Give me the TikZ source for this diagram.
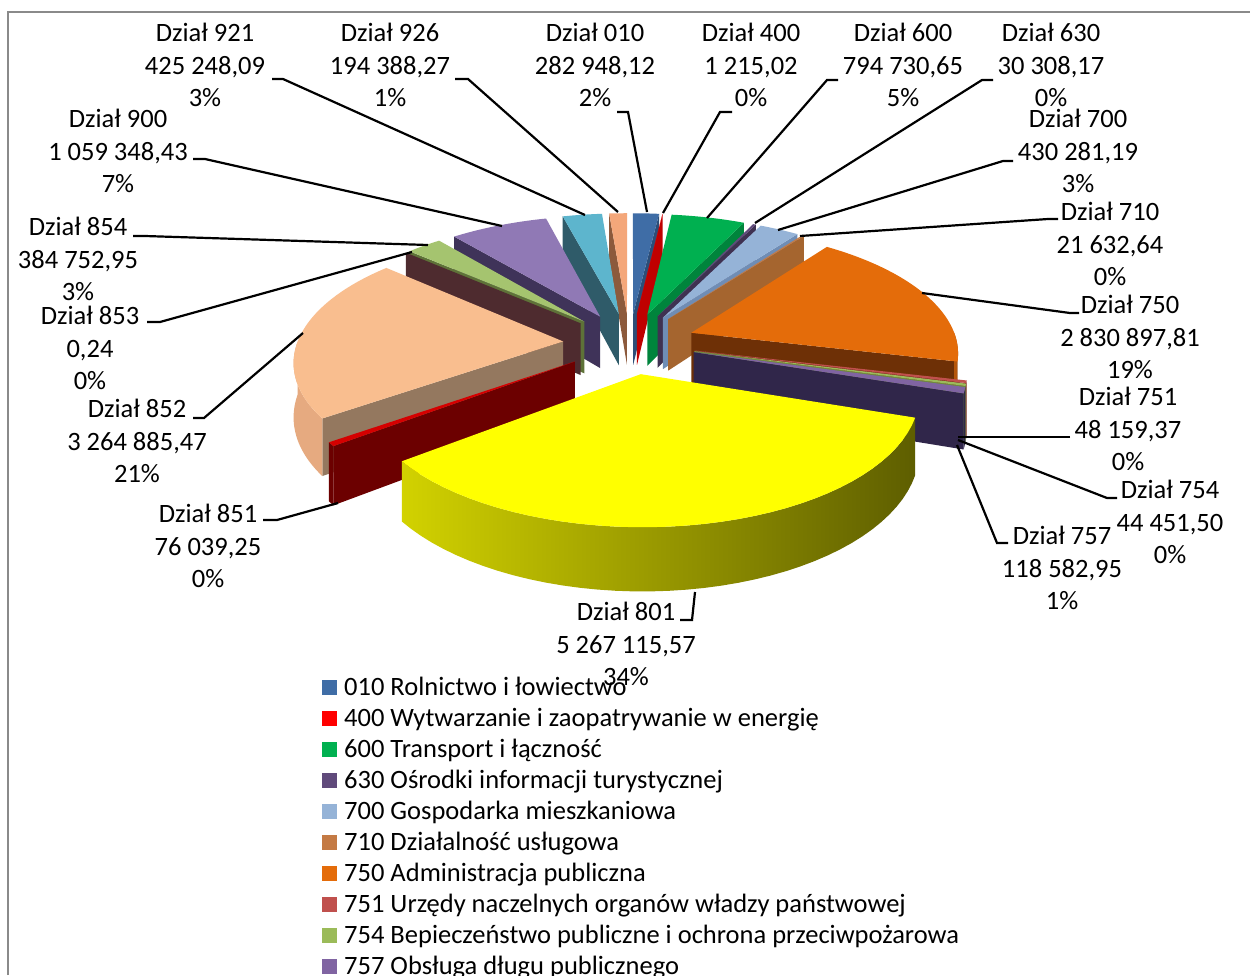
\documentclass[tikz,border=0pt]{standalone}
\usepackage{fontspec}
\setmainfont{Carlito}
\definecolor{c010t}{HTML}{3F6DA6}\definecolor{c010s}{HTML}{2C4E78}
\definecolor{c400t}{HTML}{FF0000}\definecolor{c400s}{HTML}{C00000}
\definecolor{c600t}{HTML}{00B050}\definecolor{c600s}{HTML}{00843C}
\definecolor{c630t}{HTML}{604A7B}\definecolor{c630s}{HTML}{3F3151}
\definecolor{c700t}{HTML}{95B3D7}\definecolor{c700s}{HTML}{6F8DB5}
\definecolor{c710t}{HTML}{C47A44}\definecolor{c710s}{HTML}{A5652F}
\definecolor{c750t}{HTML}{E46C0A}\definecolor{c750s}{HTML}{6E3006}\definecolor{c750w}{HTML}{B5560A}
\definecolor{c751t}{HTML}{C0504D}\definecolor{c751s}{HTML}{8C2E2C}
\definecolor{c754t}{HTML}{9BBB59}\definecolor{c754s}{HTML}{6C8A3A}
\definecolor{c757t}{HTML}{8064A2}\definecolor{c757s}{HTML}{30264A}
\definecolor{c801t}{HTML}{FFFF00}\definecolor{ys1}{HTML}{D2D200}\definecolor{ys2}{HTML}{A4A400}\definecolor{ys3}{HTML}{5E5E00}
\definecolor{c851t}{HTML}{D50000}\definecolor{c851s}{HTML}{6C0000}
\definecolor{c852t}{HTML}{F9BE8F}\definecolor{c852s}{HTML}{94785F}\definecolor{c852w}{HTML}{E6AA80}
\definecolor{c853s}{HTML}{4E2B2F}
\definecolor{c854t}{HTML}{A5C46F}\definecolor{c854s}{HTML}{5E7238}
\definecolor{c900t}{HTML}{9079B5}\definecolor{c900s}{HTML}{3F3359}
\definecolor{c921t}{HTML}{5DB5CD}\definecolor{c921s}{HTML}{2F5B69}
\definecolor{c926t}{HTML}{F4A77A}\definecolor{c926s}{HTML}{8C5A3C}
\definecolor{framegray}{HTML}{8A8A8A}
\def\pieH{53}
\newcommand\radface[3]{%
  \path[#3] ({px(0,0,#2)},{py(0,0,#2,0)}) -- ({px(1,#1,#2)},{py(1,#1,#2,0)}) -- ({px(1,#1,#2)},{py(1,#1,#2,\pieH)}) -- ({px(0,0,#2)},{py(0,0,#2,\pieH)}) -- cycle;}
\newcommand\topface[4]{%
  \path[#4] ({px(0,0,#3)},{py(0,0,#3,0)}) -- plot[domain=#1:#2,samples=40] ({px(1,\x,#3)},{py(1,\x,#3,0)}) -- cycle;}
\newcommand\outwall[4]{%
  \path[#4] plot[domain=#1:#2,samples=40] ({px(1,\x,#3)},{py(1,\x,#3,0)}) -- plot[domain=#2:#1,samples=40] ({px(1,\x,#3)},{py(1,\x,#3,\pieH)}) -- cycle;}
\begin{document}
\begin{tikzpicture}[x=1pt,y=-1pt,
  declare function={
    qw(\qr,\qt,\qm)=1+0.14*(0.25*cos(\qm)+\qr*cos(\qt));
    px(\qr,\qt,\qm)=629.5+266*(0.25*sin(\qm)+\qr*sin(\qt))/qw(\qr,\qt,\qm);
    py(\qr,\qt,\qm,\qh)=343+(-122*(0.25*cos(\qm)+\qr*cos(\qt))+\qh)/qw(\qr,\qt,\qm);
  },
  lbl/.style={font=\fontsize{26.5}{32.3}\selectfont, align=center, inner sep=0pt, text=black},
  conn/.style={line width=2.2pt, black},
  legsq/.style={minimum size=15pt, inner sep=0pt, draw=none},
  legtx/.style={font=\fontsize{26.5}{31}\selectfont, anchor=base west, inner sep=0pt, text=black},
]
\useasboundingbox (0,0) rectangle (1250,975);
\fill[white] (0,0) rectangle (1250,975);
\draw[framegray, line width=2pt] (8,975) -- (8,12) -- (1250,12);

% ---- pie slices, back to front ----
\radface{355.420}{357.710}{fill=c926s}
\topface{355.420}{360}{357.710}{fill=c926t}
\radface{6.669}{3.334}{fill=c010s}
\topface{0}{6.669}{3.334}{fill=c010t}
\radface{6.698}{6.684}{fill=c400s}
\topface{6.669}{6.698}{6.684}{fill=c400t}
\radface{345.398}{350.409}{fill=c921s}
\topface{345.398}{355.420}{350.409}{fill=c921t}
\radface{25.428}{16.063}{fill=c600s}
\topface{6.698}{25.428}{16.063}{fill=c600t}
\radface{320.431}{332.915}{fill=c900s}
\topface{320.431}{345.398}{332.915}{fill=c900t}
\radface{26.142}{25.785}{fill=c630s}
\topface{25.428}{26.142}{25.785}{fill=c630t}
\radface{36.283}{31.213}{fill=c700s}
\topface{26.142}{36.283}{31.213}{fill=c700t}
\radface{36.793}{36.538}{fill=c710s}
\topface{36.283}{36.793}{36.538}{fill=c710t}
\radface{311.363}{315.897}{fill=c854s}
\topface{311.363}{320.431}{315.897}{fill=c854t}
\radface{311.363}{311.363}{fill=c853s}
\radface{103.511}{70.152}{fill=c750s}
\outwall{90}{103.511}{70.152}{fill=c750w}
\topface{36.793}{103.511}{70.152}{fill=c750t}
\radface{234.416}{272.890}{fill=c852s}
\outwall{234.416}{270}{272.890}{fill=c852w}
\topface{234.416}{311.363}{272.890}{fill=c852t}
\radface{104.646}{104.079}{fill=c751s}
\outwall{103.511}{104.646}{104.079}{fill=c751s}
\topface{103.511}{104.646}{104.079}{fill=c751t}
\radface{105.694}{105.170}{fill=c754s}
\outwall{104.646}{105.694}{105.170}{fill=c754s}
\topface{104.646}{105.694}{105.170}{fill=c754t}
\radface{108.489}{107.092}{fill=c757s}
\outwall{105.694}{108.489}{107.092}{fill=c757s}
\topface{105.694}{108.489}{107.092}{fill=c757t}
\radface{232.624}{233.520}{fill=c851s}
\outwall{232.624}{234.416}{233.520}{fill=c851s}
\topface{232.624}{234.416}{233.520}{fill=c851t}
\outwall{108.489}{232.624}{170.557}{left color=ys1, middle color=ys2, right color=ys3}
\topface{108.489}{232.624}{170.557}{fill=c801t}

% ---- labels ----
\node[lbl] (l921) at (205,65) {Dział 921\\425~248,09\\3\%};
\node[lbl] (l926) at (390,65) {Dział 926\\194~388,27\\1\%};
\node[lbl] (l010) at (595,65) {Dział 010\\282~948,12\\2\%};
\node[lbl] (l400) at (751,65) {Dział 400\\1~215,02\\0\%};
\node[lbl] (l600) at (903,65) {Dział 600\\794~730,65\\5\%};
\node[lbl] (l630) at (1051,65) {Dział 630\\30~308,17\\0\%};
\node[lbl] (l700) at (1078,151) {Dział 700\\430~281,19\\3\%};
\node[lbl] (l710) at (1110,244) {Dział 710\\21~632,64\\0\%};
\node[lbl] (l750) at (1130,337) {Dział 750\\2~830~897,81\\19\%};
\node[lbl] (l751) at (1128,429) {Dział 751\\48~159,37\\0\%};
\node[lbl] (l754) at (1170,522) {Dział 754\\44~451,50\\0\%};
\node[lbl] (l757) at (1062,568) {Dział 757\\118~582,95\\1\%};
\node[lbl] (l801) at (626,644) {Dział 801\\5~267~115,57\\34\%};
\node[lbl] (l851) at (208,546) {Dział 851\\76~039,25\\0\%};
\node[lbl] (l852) at (137,441) {Dział 852\\3~264~885,47\\21\%};
\node[lbl] (l853) at (90,348) {Dział 853\\0,24\\0\%};
\node[lbl] (l854) at (78,259) {Dział 854\\384~752,95\\3\%};
\node[lbl] (l900) at (118,151) {Dział 900\\1~059~348,43\\7\%};

% ---- connectors ----
\coordinate (s921) at (272,79);  \coordinate (k921) at (283,79);  \coordinate (e921) at (585,215);
\coordinate (s926) at (455,79);  \coordinate (k926) at (468,79);  \coordinate (e926) at (618,212);
\coordinate (s010) at (617,112); \coordinate (k010) at (628,112); \coordinate (e010) at (647,212);
\coordinate (s400) at (732,112); \coordinate (k400) at (720,112); \coordinate (e400) at (663,213);
\coordinate (s600) at (838,80);  \coordinate (k600) at (827,80);  \coordinate (e600) at (707,218);
\coordinate (s630) at (993,80);  \coordinate (k630) at (982,80);  \coordinate (e630) at (755,223);
\coordinate (s700) at (1013,161); \coordinate (k700) at (1003,161); \coordinate (e700) at (778,230);
\coordinate (s710) at (1058,219); \coordinate (k710) at (1048,219); \coordinate (e710) at (800,236);
\coordinate (s750) at (1079,313); \coordinate (k750) at (1070,313); \coordinate (e750) at (922,293);
\coordinate (s751) at (1070,437); \coordinate (e751) at (958,437);
\coordinate (s754) at (1117,498); \coordinate (k754) at (1107,498); \coordinate (e754) at (958,440);
\coordinate (s757) at (1008,543); \coordinate (k757) at (997,543); \coordinate (e757) at (957,445);
\coordinate (s801) at (680,620); \coordinate (k801) at (692,620); \coordinate (e801) at (695,592);
\coordinate (s851) at (263,520); \coordinate (k851) at (277,520); \coordinate (e851) at (338,503);
\coordinate (s852) at (193,418); \coordinate (k852) at (204,418); \coordinate (e852) at (303,333);
\coordinate (s853) at (147,322); \coordinate (k853) at (160,322); \coordinate (e853) at (412,252);
\coordinate (s854) at (133,236); \coordinate (k854) at (145,236); \coordinate (e854) at (428,245);
\coordinate (s900) at (193,159); \coordinate (k900) at (205,159); \coordinate (e900) at (502,226);
\foreach \n in {921,926,010,400,600,630,700,710,750,754,757,801,851,852,853,854,900}
  \draw[conn] (s\n) -- (k\n) -- (e\n);
\draw[conn] (s751) -- (e751);

% ---- legend ----
\foreach \i/\c/\t in {
  1/c010t/{010 Rolnictwo i łowiectwo},
  2/c400t/{400 Wytwarzanie i zaopatrywanie w energię},
  3/c600t/{600 Transport i łączność},
  4/c630t/{630 Ośrodki informacji turystycznej},
  5/c700t/{700 Gospodarka mieszkaniowa},
  6/c710t/{710 Działalność usługowa},
  7/c750t/{750 Administracja publiczna},
  8/c751t/{751 Urzędy naczelnych organów władzy państwowej},
  9/c754t/{754 Bepieczeństwo publiczne i ochrona przeciwpożarowa},
  10/c757t/{757 Obsługa długu publicznego}}
{
  \node[legsq, fill=\c] (q\i) at (329.5,{687+31*(\i-1)}) {};
  \node[legtx] (t\i) at (344,{695+31*(\i-1)}) {\t};
}
\end{tikzpicture}
\end{document}
